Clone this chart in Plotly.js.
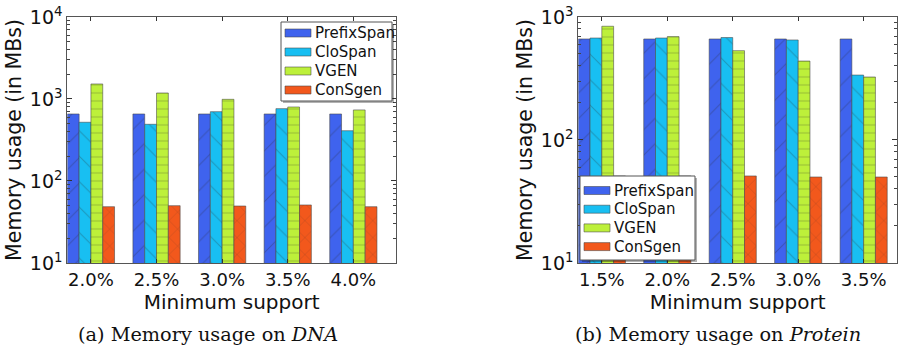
<!DOCTYPE html>
<html>
<head>
<meta charset="utf-8">
<script src="https://cdn.plot.ly/plotly-3.0.1.min.js"></script>
<style>
html,body{margin:0;padding:0;background:#fff;}
#chart{width:901px;height:353px;}
</style>
</head>
<body>
<div id="chart"></div>
<script>
// ---- data ----
const seriesNames = ["PrefixSpan", "CloSpan", "VGEN", "ConSgen"];
const dnaSupport = ["2.0%", "2.5%", "3.0%", "3.5%", "4.0%"];
const proteinSupport = ["1.5%", "2.0%", "2.5%", "3.0%", "3.5%"];

const dnaPrefixSpan = [656, 656, 656, 656, 656];
const dnaCloSpan    = [520, 491, 700, 762, 410];
const dnaVGEN       = [1524, 1183, 990, 798, 735];
const dnaConSgen    = [48.6, 50, 49.5, 51, 48.6];

const protPrefixSpan = [662, 662, 662, 662, 662];
const protCloSpan    = [674, 674, 680, 650, 337];
const protVGEN       = [840, 692, 532, 438, 325];
const protConSgen    = [51, 51, 51, 50, 50];

const yTickVals = [10, 100, 1000, 10000];
const yTickText = ["10<sup>1</sup>", "10<sup>2</sup>", "10<sup>3</sup>", "10<sup>4</sup>"];

// ---- styles ----
const W = 901, H = 353;
const colors = ["#3f63ee", "#18bff2", "#bdf03a", "#f2581c"];
const hatch  = [
  {shape: "/", size: 18, solidity: 0.06},
  {shape: "\\", size: 18, solidity: 0.06},
  {shape: "-", size: 8, solidity: 0.12},
  {shape: "x", size: 12, solidity: 0.08}
];
const FONT = "DejaVu Sans, sans-serif";

function makeTraces(cats, vals, xa, ya) {
  return vals.map((v, i) => ({
    type: "bar",
    name: seriesNames[i],
    x: cats,
    y: v,
    xaxis: xa,
    yaxis: ya,
    showlegend: false,
    marker: {
      color: colors[i],
      line: {color: "rgba(70,70,70,0.7)", width: 0.8},
      pattern: {shape: hatch[i].shape, size: hatch[i].size, solidity: hatch[i].solidity,
                fgcolor: "rgba(40,40,40,0.55)", fillmode: "overlay"}
    },
    hoverinfo: "x+y+name"
  }));
}

const traces = [].concat(
  makeTraces(dnaSupport, [dnaPrefixSpan, dnaCloSpan, dnaVGEN, dnaConSgen], "x", "y"),
  makeTraces(proteinSupport, [protPrefixSpan, protCloSpan, protVGEN, protConSgen], "x2", "y2")
);

function minorVals(lo, hi) {
  const out = [];
  for (let d = lo; d < hi; d++) for (let k = 2; k <= 9; k++) out.push(k * Math.pow(10, d));
  return out;
}

function xAxis(domain, range, anchor) {
  return {
    domain: domain, type: "category", range: range, anchor: anchor,
    showline: true, linecolor: "#555", linewidth: 1, mirror: "allticks",
    ticks: "inside", ticklen: 4, tickcolor: "#333",
    tickfont: {family: FONT, size: 18, color: "#111"},
    showgrid: false, zeroline: false,
    title: {text: "Minimum support", font: {family: FONT, size: 20, color: "#111"}, standoff: 0}
  };
}
function yAxis(domain, range, anchor, lo, hi) {
  return {
    domain: domain, type: "log", range: range, anchor: anchor,
    showline: true, linecolor: "#555", linewidth: 1, mirror: "allticks",
    ticks: "inside", ticklen: 5, tickcolor: "#333",
    tickvals: yTickVals, ticktext: yTickText,
    tickfont: {family: FONT, size: 19, color: "#111"},
    minor: {ticks: "inside", ticklen: 3, tickcolor: "#444", tickvals: minorVals(lo, hi), showgrid: false},
    showgrid: false, zeroline: false,
    title: {text: "Memory usage (in MBs)", font: {family: FONT, size: 20.5, color: "#111"}, standoff: 2}
  };
}

// custom legend boxes (pixel positions -> paper)
const px = v => v / W, py = v => 1 - v / H;
function legendItems(left, top, right, bottom, firstY, step) {
  const shapes = [], ann = [];
  shapes.push({type: "rect", xref: "paper", yref: "paper", x0: px(left + 2), x1: px(right + 2),
               y0: py(bottom + 2), y1: py(top + 2), fillcolor: "rgba(0,0,0,0.3)", line: {width: 0}, layer: "above"});
  shapes.push({type: "rect", xref: "paper", yref: "paper", x0: px(left), x1: px(right),
               y0: py(bottom), y1: py(top), fillcolor: "#fff", line: {color: "#555", width: 1}, layer: "above"});
  seriesNames.forEach((n, i) => {
    const cy = firstY + i * step;
    shapes.push({type: "rect", xref: "paper", yref: "paper", x0: px(left + 4), x1: px(left + 30),
                 y0: py(cy + 4), y1: py(cy - 4), fillcolor: colors[i],
                 line: {color: "rgba(70,70,70,0.7)", width: 0.8}, layer: "above"});
    ann.push({text: n, xref: "paper", yref: "paper", x: px(left + 32), y: py(cy),
              xanchor: "left", yanchor: "middle", showarrow: false,
              font: {family: FONT, size: 15, color: "#111"}});
  });
  return {shapes, ann};
}
const leg1 = legendItems(281, 22, 392, 101, 33, 19);
const leg2 = legendItems(580, 176, 695, 260, 190.5, 18.7);

const layout = {
  width: W, height: H,
  margin: {l: 0, r: 0, t: 0, b: 0},
  paper_bgcolor: "#fff", plot_bgcolor: "#fff",
  barmode: "group", bargap: 0.28, bargroupgap: 0,
  showlegend: false,
  xaxis: xAxis([0.0747, 0.4395], [-0.36, 4.65], "y"),
  yaxis: yAxis([0.255, 0.952], [1, 4], "x", 1, 4),
  xaxis2: xAxis([0.6418, 0.9956], [-0.36, 4.51], "y2"),
  yaxis2: yAxis([0.255, 0.952], [1, 3], "x2", 1, 3),
  shapes: leg1.shapes.concat(leg2.shapes),
  annotations: leg1.ann.concat(leg2.ann, [
    {text: "(a) Memory usage on <i>DNA</i>", xref: "paper", yref: "paper", x: 0.2303, y: py(334),
     xanchor: "center", yanchor: "middle", showarrow: false,
     font: {family: "DejaVu Serif, serif", size: 19.3, color: "#111"}},
    {text: "(b) Memory usage on <i>Protein</i>", xref: "paper", yref: "paper", x: 0.7964, y: py(334),
     xanchor: "center", yanchor: "middle", showarrow: false,
     font: {family: "DejaVu Serif, serif", size: 19.3, color: "#111"}}
  ])
};

Plotly.newPlot("chart", traces, layout, {staticPlot: true, displayModeBar: false});
</script>
</body>
</html>
